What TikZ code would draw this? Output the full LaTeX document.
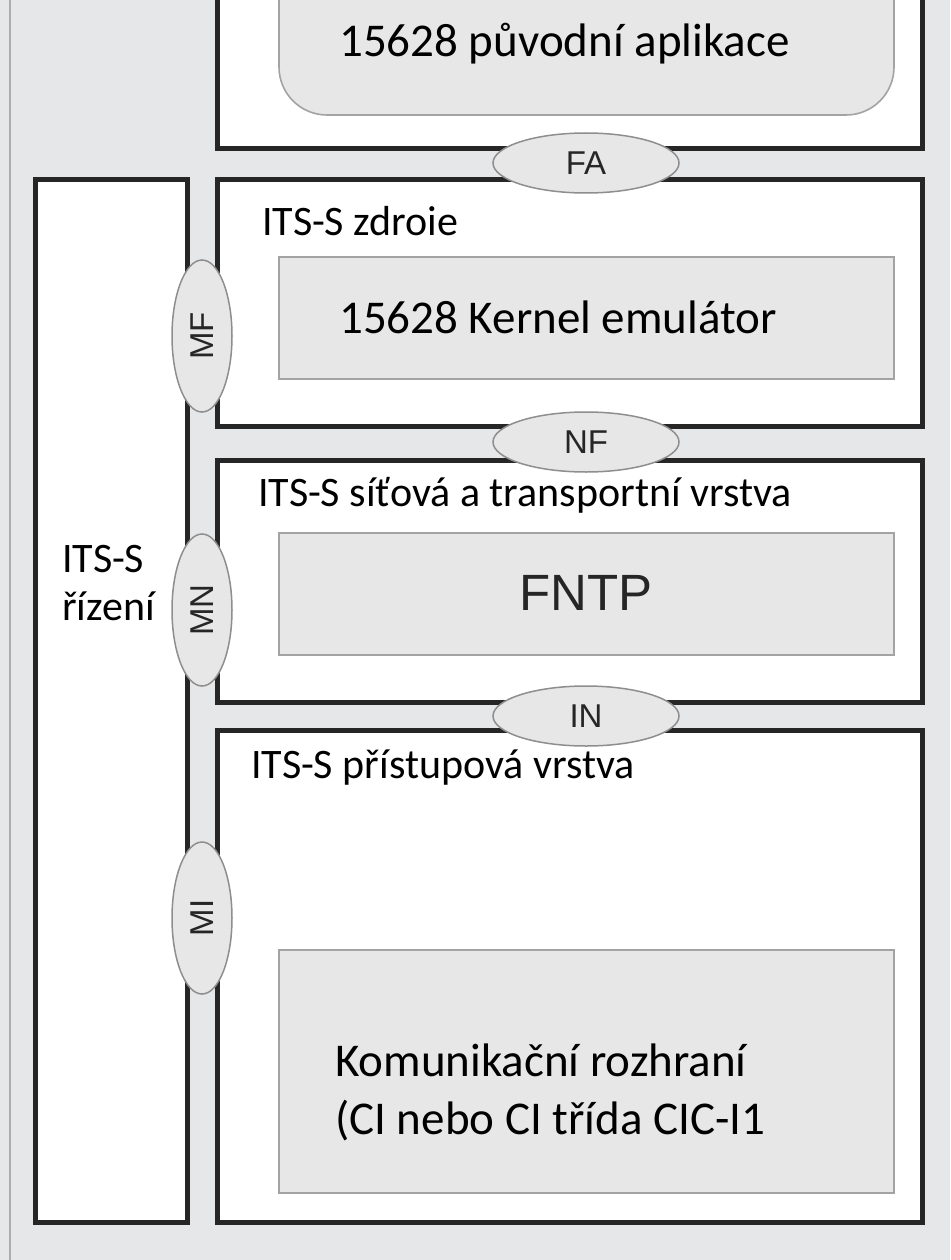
\documentclass[tikz,border=0pt]{standalone}
\usepackage{fontspec}
\setmainfont{Carlito}
\newfontfamily\arialfont{Liberation Sans}
\usetikzlibrary{shapes.geometric}
\definecolor{bggrey}{HTML}{E6E7E8}
\definecolor{boxgrey}{HTML}{E7E7E8}
\definecolor{edgegrey}{HTML}{A3A3A3}
\definecolor{sapedge}{HTML}{8E8E8E}
\tikzset{
  layerbox/.style={draw=black!85, line width=5pt, fill=white},
  innerbox/.style={draw=edgegrey, line width=1.6pt, fill=boxgrey},
  sap/.style={ellipse, draw=sapedge, line width=1.5pt, fill=boxgrey, inner sep=0pt,
    minimum width=186pt, minimum height=60pt, text=black!85,
    font=\arialfont\fontsize{33}{33}\selectfont},
  layerlabel/.style={anchor=base west, inner sep=0pt, font=\fontsize{42}{48}\selectfont},
  boxtext/.style={anchor=base west, inner sep=0pt, font=\fontsize{47}{58}\selectfont}
}
\begin{document}
\begin{tikzpicture}[x=1pt,y=-1pt]
  % picture is 950 x 1260, y runs downwards
  \useasboundingbox (0,0) rectangle (950,1260);
  \clip (0,0) rectangle (950,1260);
  \fill[bggrey] (0,0) rectangle (950,1260);
  \draw[edgegrey!90, line width=2pt] (10,0) -- (10,1260);
  % management column
  \draw[layerbox] (35,180) rectangle (187,1222);
  \node[layerlabel, align=left] (mgmt) at (62,620) {ITS-S\\řízení};
  % application layer (cut at the top)
  \draw[layerbox] (217,-40) rectangle (922,149);
  \draw[innerbox, rounded corners=48pt] (279,-80) rectangle (894,115);
  \node[boxtext] (app) at (339,57) {15628 původní aplikace};
  % facilities layer
  \draw[layerbox] (217,180) rectangle (922,426);
  \node[layerlabel] (facl) at (262,235) {ITS-S zdroie};
  \draw[innerbox] (279,257) rectangle (894,379);
  \node[boxtext] (kernel) at (339,333) {15628 Kernel emulátor};
  % networking and transport layer
  \draw[layerbox] (217,460) rectangle (922,702);
  \node[layerlabel] (netl) at (258,506) {ITS-S síťová a transportní vrstva};
  \draw[innerbox] (279,533) rectangle (894,655);
  \node[anchor=base, inner sep=0pt, text=black!85,
    font=\arialfont\fontsize{51}{51}\selectfont] (fntp) at (586,610) {FNTP};
  % access layer
  \draw[layerbox] (217,730) rectangle (922,1222);
  \node[layerlabel] (accl) at (251,778) {ITS-S přístupová vrstva};
  \draw[innerbox] (279,950) rectangle (894,1193);
  \node[boxtext] (ci1) at (335,1076) {Komunikační rozhraní};
  \node[boxtext] (ci2) at (335,1134) {(CI nebo CI třída CIC-I1};
  % interfaces between layers
  \node[sap] (FA) at (586,163) {FA};
  \node[sap] (NF) at (586,442) {NF};
  \node[sap] (IN) at (586,716) {IN};
  % interfaces to management
  \node[sap, rotate=90, minimum width=152pt] (MF) at (202,336) {MF};
  \node[sap, rotate=90, minimum width=152pt] (MN) at (202,610) {MN};
  \node[sap, rotate=90, minimum width=152pt] (MI) at (202,918) {MI};
\end{tikzpicture}
\end{document}
